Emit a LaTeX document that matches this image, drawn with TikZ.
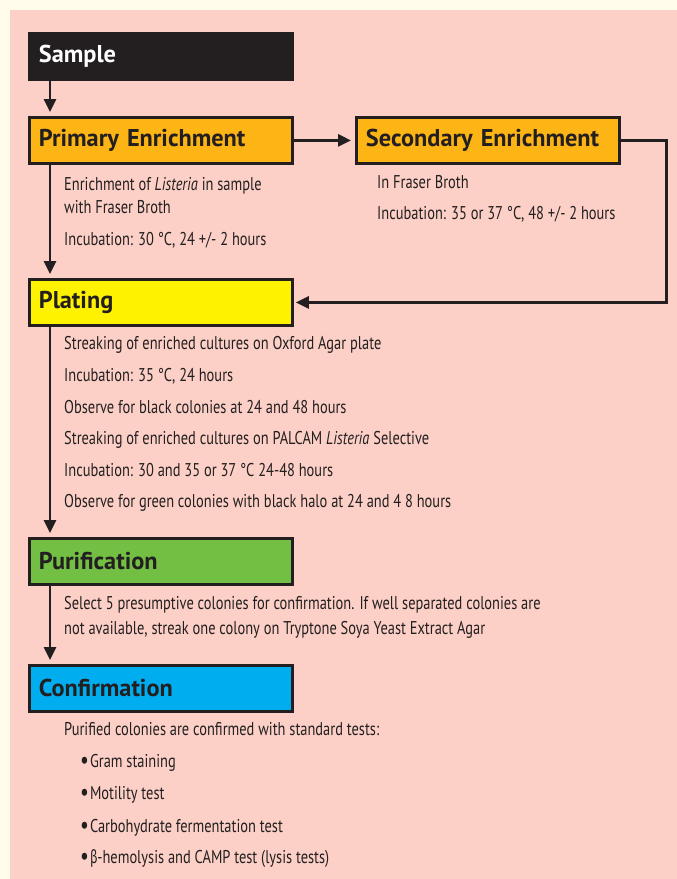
\documentclass[tikz,border=0pt]{standalone}
\usepackage{fontspec}
\setmainfont{PT Sans}[FakeStretch=0.78]
\newfontfamily\headfont{PT Sans}
\newfontfamily\greekfont{Fira Sans}[FakeStretch=0.66]
\newcommand{\bigdot}{\raisebox{-1.5pt}{\fontsize{25}{25}\selectfont\textbullet}\hspace{1pt}}
\definecolor{creamback}{RGB}{255, 252, 236}
\definecolor{pinkpanel}{RGB}{252, 208, 198}
\definecolor{inkblack}{RGB}{35, 31, 32}
\definecolor{enrichorange}{RGB}{253, 181, 21}
\definecolor{platyellow}{RGB}{255, 242, 0}
\definecolor{purigreen}{RGB}{114, 191, 68}
\definecolor{confblue}{RGB}{0, 174, 239}
\usetikzlibrary{arrows.meta, positioning}

\begin{document}
\begin{tikzpicture}[
  x=1pt, y=-1pt,
  stage/.style={draw=inkblack, line width=2.8pt, anchor=north west, text width=244pt,
    inner xsep=9.5pt, minimum height=46pt, align=left, text=inkblack,
    font=\headfont\fontsize{24.3}{25}\selectfont\bfseries},
  note/.style={anchor=base west, inner sep=0pt, text=inkblack,
    font=\fontsize{18.5}{18.5}\selectfont},
  arr/.style={-{Triangle[length=13pt, width=12pt]}, line width=2.8pt, draw=inkblack, shorten >=4pt}
]
  % background and panel
  \fill[creamback] (0,0) rectangle (677,879);
  \fill[pinkpanel] (10,10) rectangle (677,879);

  % stages
  \node[stage, fill=inkblack, text=white] (sample) at (28,32) {Sample};
  \node[stage, fill=enrichorange] (primary) at (28,116) {Primary Enrichment};
  \node[stage, fill=enrichorange] (secondary) at (355,116) {Secondary Enrichment};
  \node[stage, fill=platyellow] (plating) at (28,278) {Plating};
  \node[stage, fill=purigreen] (purif) at (28,537) {Purification};
  \node[stage, fill=confblue] (confirm) at (28,664) {Confirmation};

  % notes
  \node[note] (pe1) at (64,190) {Enrichment of \textit{Listeria} in sample};
  \node[note] (pe2) at (64,213) {with Fraser Broth};
  \node[note] (pe3) at (64,245) {Incubation: 30 °C, 24 +/- 2 hours};

  \node[note] (se1) at (377,188) {In Fraser Broth};
  \node[note] (se2) at (377,219) {Incubation: 35 or 37 °C, 48 +/- 2 hours};

  \node[note] (pl1) at (64,349) {Streaking of enriched cultures on Oxford Agar plate};
  \node[note] (pl2) at (64,381) {Incubation: 35 °C, 24 hours};
  \node[note] (pl3) at (64,413) {Observe for black colonies at 24 and 48 hours};
  \node[note] (pl4) at (64,444) {Streaking of enriched cultures on PALCAM \textit{Listeria} Selective};
  \node[note] (pl5) at (64,476) {Incubation: 30 and 35 or 37 °C 24-48 hours};
  \node[note] (pl6) at (64,507) {Observe for green colonies with black halo at 24 and 4 8 hours};

  \node[note] (pu1) at (64,609) {Select 5 presumptive colonies for confirmation. If well separated colonies are};
  \node[note] (pu2) at (64,634) {not available, streak one colony on Tryptone Soya Yeast Extract Agar};

  \node[note] (co0) at (64,735) {Purified colonies are confirmed with standard tests:};
  \node[note] (co1) at (80,767) {\bigdot Gram staining};
  \node[note] (co2) at (80,799) {\bigdot Motility test};
  \node[note] (co3) at (80,832) {\bigdot Carbohydrate fermentation test};
  \node[note] (co4) at (80,863) {\bigdot{\greekfont β}-hemolysis and CAMP test (lysis tests)};

  % connectors
  \draw[arr] ([xshift=22pt]sample.south west) -- ([xshift=22pt]primary.north west);
  \draw[arr] (primary.east) -- (secondary.west);
  \draw[arr] ([xshift=22pt]primary.south west) -- ([xshift=22pt]plating.north west);
  \draw[arr, shorten >=2pt] (secondary.east) -- ++(46,0) |- (plating.east);
  \draw[arr] ([xshift=22pt]plating.south west) -- ([xshift=22pt]purif.north west);
  \draw[arr] ([xshift=22pt]purif.south west) -- ([xshift=22pt]confirm.north west);
\end{tikzpicture}
\end{document}
